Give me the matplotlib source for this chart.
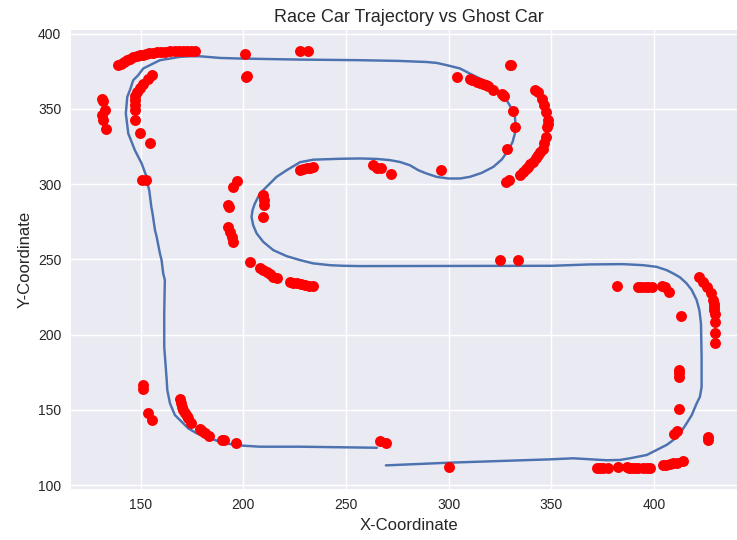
#!/usr/bin/env python3

from matplotlib import pyplot as plt
import numpy as np


# race car path, traced from start (bottom left straight) to finish
track_x = [265, 245, 227.5, 208, 199.8, 193.5, 188.6, 183.7, 177.3, 173.2, 169.1, 166.7,
           164.3, 163, 162.7, 161.5, 161.5, 161.8, 161, 160.2, 159.4, 157.8, 157, 155.8,
           155.2, 154.2, 153.7, 152.9, 150.5, 147.2, 144, 142.8, 143.5, 144.8, 146.4,
           148.8, 151.3, 154.5, 159.4, 164.3, 169.1, 174, 178.9, 188.6, 198.3, 227.6,
           256.8, 276.2, 289.2, 294.1, 299, 305.5, 310.3, 316.8, 321.7, 325.8, 328.2,
           330.6, 332.2, 332.6, 332.2, 331.1, 329, 325.8, 321.7, 316, 310.3, 305.5,
           299.8, 294.1, 289.2, 285.2, 281.1, 276.2, 271.4, 264.9, 256.8, 247, 234,
           227.6, 221.1, 216.2, 211.3, 208.1, 205.6, 204.5, 204, 204.8, 206.5, 209.7,
           214.6, 221.1, 227.6, 234, 242.2, 248.6, 256.8, 300, 350, 368.7, 384.9, 394.7,
           401.2, 406.1, 409.3, 412.6, 415.8, 418.3, 420.7, 422, 422.8, 423.1, 423.1,
           422.3, 420.7, 418.3, 415.8, 412.6, 409.3, 406.1, 401.2, 396.4, 388.2, 383.3,
           376.9, 360.6, 349.3, 300.6, 269.4]
track_y = [124.8, 125.2, 125.5, 125.5, 126.2, 127.3, 128.8, 131.1, 134.4, 137.7, 143.2, 146.5,
           154.3, 163.1, 169.8, 191.9, 214, 236.2, 240.6, 249.5, 253.9, 265, 269.4, 280.5,
           285, 295.9, 298.5, 304.8, 313.7, 322.5, 333.6, 346.9, 357.9, 362.4, 369,
           372.3, 376.8, 379, 382.3, 383.4, 384.5, 384.9, 384.9, 383.8, 383.4, 382.7,
           382.3, 381.8, 381.1, 380.5, 379, 376.8, 373.4, 369, 363.5, 360.2, 355.7,
           350.2, 344.6, 339.1, 333.6, 328, 322.5, 316.3, 311.4, 307.4, 304.8, 303.7,
           303.7, 304.8, 307, 309.2, 312.5, 314.7, 315.9, 316.7, 317, 316.8, 316.2,
           314.5, 309.2, 304.8, 298.1, 293.8, 287, 282.7, 278.2, 272.7, 267.2, 261.6,
           256.1, 252.1, 249.5, 247.3, 246.1, 245.7, 245.5, 245.6, 245.7, 246.6, 246.8, 246.1,
           245, 242.8, 240.6, 238, 234, 229.6, 222.9, 216.3, 207.4, 185.3, 165.3,
           158.7, 154.3, 146.5, 141, 134.4, 129.9, 126.7, 123.3, 120, 117.8, 116.7,
           116.5, 117.8, 117.1, 114.9, 113.1]

# ghost car positions
ghost_x = [139.1, 140.5, 142, 143.5, 145, 146.5, 148, 149.5, 151, 152.5, 154, 156, 158,
           160, 162, 164.3, 166.5, 168.5, 170.5, 172.5, 174.5, 176.4,
           155.4, 153.5, 151.3, 149.5, 148, 147.5, 147.2, 147.2, 147.2, 147.5, 149.7, 154.5,
           150.5, 152.5,
           131, 131.5, 132.5, 131, 131.5, 133.1,
           200.8, 201.2, 202, 227.6, 231.6,
           329.8, 330.5, 303.8, 310.3, 311.5, 313.6, 315, 316.8, 318, 319.2, 321.7, 326, 327,
           331.1, 332.2, 328.5, 296.1, 327.9, 329.5,
           342, 343.6, 345.2, 346.3, 347.3, 348.1, 348.4, 348, 347.3, 346.5, 345.7, 344.5,
           343.6, 342.3, 341.1, 339.8, 338.7, 337.5, 336.3, 334.7,
           227.6, 229, 230.8, 232.5, 234, 263.2, 264.9, 266.8, 271.9,
           197, 195.1, 192.6, 192.8, 192.6, 193.5, 194.3, 195.1,
           209.7, 209.9, 210, 209.7,
           203.2, 208.1, 209.5, 211.3, 213, 214.6, 216.2,
           222.7, 224.3, 225.9, 228, 230, 232, 234,
           324.9, 333.8,
           381.7, 392.3, 393.8, 395.5, 397, 398.8, 403.7, 405.3, 407.3, 413,
           422, 423.9, 425.9, 427.5, 428.8, 429.1, 429.3, 429.1, 429.6, 429.6, 429.6, 429.6,
           412, 412, 412, 412, 411.3, 409.6, 426.3, 426.3,
           372, 373.5, 375.2, 377.6, 382.5, 386.6, 388, 389, 390.5, 392.3, 394.7, 396.5, 398,
           404.4, 406, 407.7, 409.3, 410.9, 414.2,
           300.2, 266.5, 269.4,
           151.3, 151.3, 153.7, 155.4,
           169.1, 169.5, 170, 170.8, 171.6, 172.4, 173.2, 174.3, 178.9, 180, 181.3, 183.4,
           189.4, 190.5, 196.4]
ghost_y = [378.9, 380, 381.2, 382.3, 383.2, 384.1, 384.9, 385.5, 386, 386.5, 387, 387.2, 387.5,
           387.7, 388, 388.2, 388.3, 388.3, 388.4, 388.4, 388.5, 388.5,
           372.3, 369.5, 366.8, 364, 361.2, 358.5, 355.7, 352.5, 349.1, 342.4, 333.6, 327,
           302.5, 302.5,
           356.8, 355.3, 349.1, 345.7, 342.4, 336.3,
           386.7, 371.2, 372, 388.4, 388.4,
           379.4, 378.8, 371.2, 370.1, 369, 367.9, 367.4, 366.8, 366, 365, 362.8, 359.8, 358.2,
           348.4, 337.6, 323.6, 309.2, 301.5, 302.6,
           362.8, 361.2, 356.8, 352.4, 347.9, 342.4, 340, 338, 331.3, 327.5, 323.6, 321.5,
           319.2, 317, 314.7, 313, 311.4, 309.8, 308.1, 305.9,
           309.2, 309.8, 310.4, 311, 311.4, 312.5, 311, 310.4, 307,
           302.1, 298.1, 286, 284.5, 271.6, 268.3, 265, 261.6,
           292.6, 289.5, 286, 278.2,
           248.4, 244, 242.8, 241.7, 240, 238.4, 237.3,
           235.1, 234.5, 234, 233.5, 232.9, 232.5, 232.2,
           249.5, 249.5,
           232.4, 231.3, 231.5, 231.8, 231.6, 231.6, 232.4, 231.3, 228.4, 212.3,
           238.4, 235.1, 231.7, 227.4, 222.9, 220.5, 218.5, 216, 214, 208.5, 200.8, 194.2,
           176.4, 174.2, 172, 150.3, 136.1, 133.9, 132.1, 130,
           111.6, 111.6, 111.5, 111.5, 111.7, 111.7, 111.5, 111.4, 111.5, 111.5, 111.6, 111.6, 111.6,
           113.3, 113.6, 114, 114.4, 114.9, 116.2,
           111.8, 129.5, 128.2,
           166.5, 163.6, 147.7, 143.2,
           157, 154.5, 152, 150, 147.7, 146, 144.4, 141.4, 137, 136, 134.8, 132.6,
           130, 129.8, 127.8]


plt.style.use('seaborn-v0_8')
plt.rcParams['font.family'] = ['Liberation Sans', 'DejaVu Sans']

fig = plt.figure(figsize=(7.37, 5.40), dpi=100)
# the plot area runs off the right edge of the figure
ax = fig.add_axes([0.0963, 0.095, 0.9167, 0.849])

ax.plot(track_x, track_y, color='#4C72B0', linewidth=1.75, zorder=2)
ax.scatter(ghost_x, ghost_y, color='red', s=62, linewidths=0, zorder=3)

ax.set_xlim(116.1, 445)
ax.set_ylim(97.6, 402.2)
ax.set_xticks([150, 200, 250, 300, 350, 400])
ax.set_yticks([100, 150, 200, 250, 300, 350, 400])
ax.set_title('Race Car Trajectory vs Ghost Car', fontsize=13)
ax.set_xlabel('X-Coordinate', fontsize=12)
ax.set_ylabel('Y-Coordinate', fontsize=12)

plt.savefig('out.png', dpi=100)
